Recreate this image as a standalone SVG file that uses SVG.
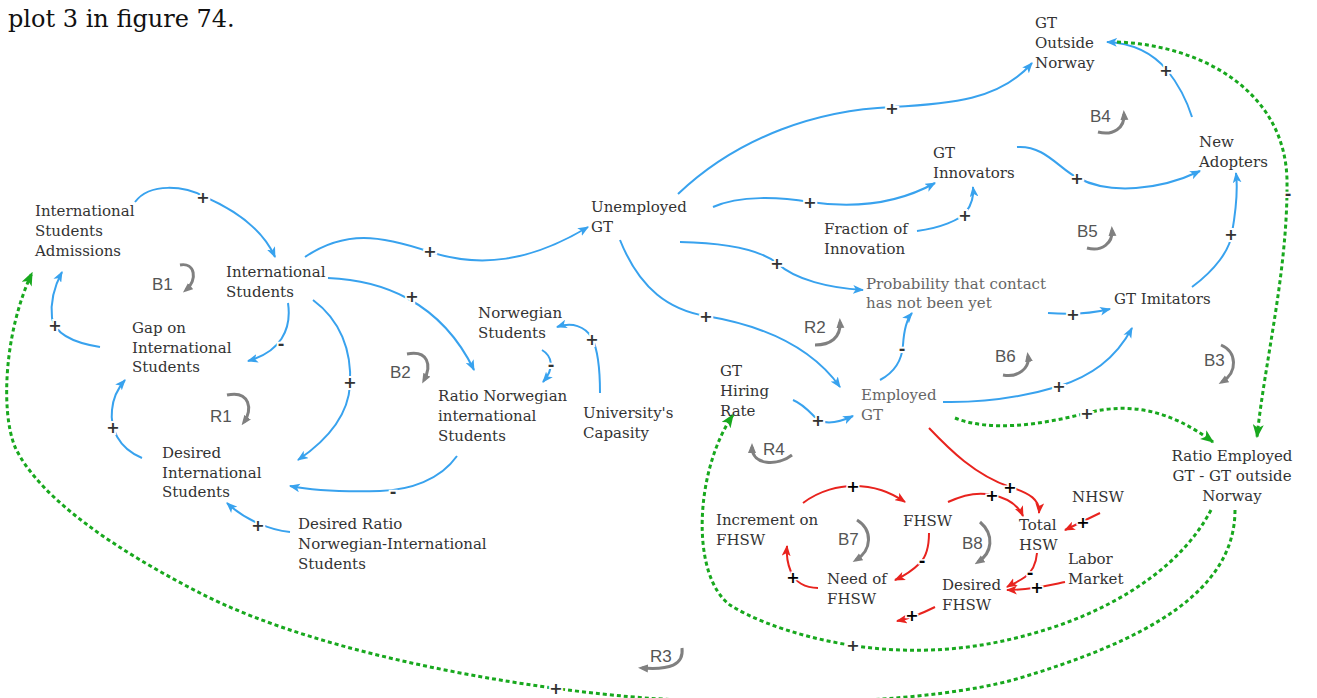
<svg xmlns="http://www.w3.org/2000/svg" width="1317" height="698" viewBox="0 0 1317 698">
  <style>
    .node { font-family: "DejaVu Serif", "Liberation Serif", serif; font-size: 15px; fill: #333; }
    .light { fill: #666; }
    .title { font-family: "DejaVu Serif", "Liberation Serif", serif; font-size: 24px; fill: #111; }
    .loop-label { font-family: "Liberation Sans", Arial, sans-serif; font-size: 17px; fill: #555; }
    .loop { fill: none; stroke: #808080; stroke-width: 3; marker-end: url(#ah-gray); }
    .blue { fill: none; stroke: #38a2ee; stroke-width: 2; marker-end: url(#ah-blue); }
    .red { fill: none; stroke: #e8231e; stroke-width: 2; marker-end: url(#ah-red); }
    .green { fill: none; stroke: #18a81e; stroke-width: 3; stroke-dasharray: 4 3; marker-end: url(#ah-green); }
    .sg { font-family: "DejaVu Sans", "Liberation Sans", sans-serif; font-size: 16px; font-weight: bold; fill: #333; text-anchor: middle; dominant-baseline: central; stroke: #fff; stroke-width: 4; paint-order: stroke; }
    .sg.k { fill: #000; stroke-width: 3; }
  </style>
  <defs>
    <marker id="ah-blue" viewBox="0 0 10 8" refX="9" refY="4" markerWidth="11" markerHeight="9" markerUnits="userSpaceOnUse" orient="auto">
      <path d="M0,0 L10,4 L0,8 L2.5,4 z" fill="#38a2ee"/>
    </marker>
    <marker id="ah-red" viewBox="0 0 10 8" refX="9" refY="4" markerWidth="11" markerHeight="9" markerUnits="userSpaceOnUse" orient="auto">
      <path d="M0,0 L10,4 L0,8 L2.5,4 z" fill="#e8231e"/>
    </marker>
    <marker id="ah-green" viewBox="0 0 10 8" refX="9" refY="4" markerWidth="14" markerHeight="11" markerUnits="userSpaceOnUse" orient="auto">
      <path d="M0,0 L10,4 L0,8 L2.5,4 z" fill="#18a81e"/>
    </marker>
    <marker id="ah-gray" viewBox="0 0 10 8" refX="6" refY="4" markerWidth="10" markerHeight="9" markerUnits="userSpaceOnUse" orient="auto">
      <path d="M0,0 L10,4 L0,8 z" fill="#808080"/>
    </marker>
  </defs>

  <rect width="1317" height="698" fill="#fff"/>
  <text class="title" x="8" y="27">plot 3 in figure 74.</text>

  <!-- connectors -->
  <g id="connectors">
    <!-- students sector -->
    <path class="blue" d="M135,202 C150,182 185,186 205,197 C235,210 262,228 275,257"/>
    <path class="blue" d="M100,347 C75,343 55,335 52,318 C50,300 55,285 62,272"/>
    <path class="blue" d="M288,303 C292,330 280,352 248,361"/>
    <path class="blue" d="M142,458 C118,448 110,428 112,410 C113,398 118,388 125,380"/>
    <path class="blue" d="M313,300 C340,320 352,350 350,385 C348,420 320,445 298,460"/>
    <path class="blue" d="M328,278 C380,280 440,300 474,370"/>
    <path class="blue" d="M305,257 C345,230 380,235 430,252 C480,268 530,262 588,227"/>
    <path class="blue" d="M457,456 C440,480 410,490 380,491 C340,492 310,490 290,486"/>
    <path class="blue" d="M290,532 C270,530 245,520 227,503"/>
    <path class="blue" d="M542,350 C552,356 555,368 543,382"/>
    <path class="blue" d="M600,393 C600,370 598,350 592,338 C585,326 572,322 557,327"/>
    <!-- GT sector -->
    <path class="blue" d="M678,194 C740,135 820,110 892,107 C950,104 1000,100 1032,63"/>
    <path class="blue" d="M713,207 C740,195 780,197 810,202 C850,208 895,205 935,183"/>
    <path class="blue" d="M917,231 C940,228 960,220 966,212 C972,204 974,196 973,187"/>
    <path class="blue" d="M680,242 C730,243 760,250 777,263 C795,280 830,288 863,290"/>
    <path class="blue" d="M620,240 C640,290 670,310 706,316 C760,325 810,345 840,387"/>
    <path class="blue" d="M1017,147 C1045,145 1060,170 1078,178 C1110,195 1160,190 1200,171"/>
    <path class="blue" d="M1192,117 C1185,95 1175,80 1167,70 C1150,50 1130,43 1107,42"/>
    <path class="blue" d="M1192,287 C1215,270 1230,250 1232,233 C1236,210 1238,190 1236,173"/>
    <path class="blue" d="M1048,313 C1060,314 1085,315 1110,309"/>
    <path class="blue" d="M880,380 C895,372 902,360 903,345 C904,330 906,320 912,313"/>
    <path class="blue" d="M943,402 C990,403 1030,395 1060,386 C1090,376 1115,360 1132,328"/>
    <path class="blue" d="M793,400 C805,405 812,415 818,420 C828,425 840,422 853,416"/>
    <!-- FHSW sector -->
    <path class="red" d="M929,428 C950,450 975,475 1010,487 C1030,493 1040,500 1039,513"/>
    <path class="red" d="M948,502 C965,494 980,492 992,495 C1008,498 1018,505 1023,516"/>
    <path class="red" d="M803,503 C820,490 840,486 853,486 C875,486 890,492 905,502"/>
    <path class="red" d="M929,533 C929,548 925,558 920,563 C912,571 904,576 895,580"/>
    <path class="red" d="M818,588 C805,588 795,582 791,572 C788,565 786,558 787,546"/>
    <path class="red" d="M1037,553 C1036,565 1032,572 1025,577 C1018,582 1012,584 1007,587"/>
    <path class="red" d="M1065,582 C1050,585 1030,590 1007,590"/>
    <path class="red" d="M1100,513 L1065,530"/>
    <path class="red" d="M935,607 C925,612 912,618 897,621"/>
    <!-- cross-sector links -->
    <path class="green" d="M955,418 C990,432 1040,425 1087,413 C1130,402 1170,410 1213,442"/>
    <path class="green" d="M1117,42 C1200,45 1285,90 1287,180 C1288,270 1265,360 1257,437"/>
    <path class="green" d="M1211,510 C1185,560 1130,600 1060,625 C1010,642 960,652 900,650 C840,648 770,630 730,605 C690,575 695,470 733,415"/>
    <path class="green" d="M1235,510 C1235,590 1150,640 1013,680 C930,702 790,706 680,700 C560,695 330,660 200,593 C120,552 40,500 15,447 C0,410 5,330 32,273"/>

    <!-- polarity signs -->
    <text class="sg" x="203" y="197">+</text>
    <text class="sg" x="55" y="325">+</text>
    <text class="sg" x="281" y="343">-</text>
    <text class="sg" x="113" y="427">+</text>
    <text class="sg" x="350" y="382">+</text>
    <text class="sg" x="412" y="296">+</text>
    <text class="sg" x="430" y="251">+</text>
    <text class="sg" x="393" y="491">-</text>
    <text class="sg" x="258" y="525">+</text>
    <text class="sg" x="551" y="364">-</text>
    <text class="sg" x="592" y="339">+</text>
    <text class="sg" x="892" y="108">+</text>
    <text class="sg" x="810" y="202">+</text>
    <text class="sg" x="965" y="215">+</text>
    <text class="sg" x="777" y="263">+</text>
    <text class="sg" x="706" y="316">+</text>
    <text class="sg" x="1077" y="178">+</text>
    <text class="sg" x="1166" y="70">+</text>
    <text class="sg" x="1231" y="234">+</text>
    <text class="sg" x="1073" y="314">+</text>
    <text class="sg" x="902" y="348">-</text>
    <text class="sg" x="1059" y="386">+</text>
    <text class="sg" x="818" y="420">+</text>
    <text class="sg k" x="1010" y="487">+</text>
    <text class="sg k" x="992" y="495">+</text>
    <text class="sg k" x="853" y="486">+</text>
    <text class="sg k" x="922" y="560">-</text>
    <text class="sg k" x="793" y="577">+</text>
    <text class="sg k" x="1030" y="572">-</text>
    <text class="sg k" x="1037" y="587">+</text>
    <text class="sg k" x="1083" y="522">+</text>
    <text class="sg k" x="912" y="615">+</text>
    <text class="sg" x="1087" y="413">+</text>
    <text class="sg" x="1288" y="193">-</text>
    <text class="sg" x="853" y="645">+</text>
    <text class="sg" x="556" y="688">+</text>
  </g>

  <!-- loop identifiers -->
  <g id="loops">
    <g id="loop-B1"><text class="loop-label" x="152" y="290">B1</text><path class="loop" d="M180,265 C195,262 198,280 186,290"/></g>
    <g id="loop-R1"><text class="loop-label" x="210" y="422">R1</text><path class="loop" d="M227,395 C250,390 253,410 244,422"/></g>
    <g id="loop-B2"><text class="loop-label" x="390" y="378">B2</text><path class="loop" d="M407,354 C428,350 432,365 424,380"/></g>
    <g id="loop-R2"><text class="loop-label" x="804" y="333">R2</text><path class="loop" d="M815,345 C830,345 841,338 840,322"/></g>
    <g id="loop-B6"><text class="loop-label" x="995" y="362">B6</text><path class="loop" d="M1003,375 C1018,378 1030,368 1028,356"/></g>
    <g id="loop-B4"><text class="loop-label" x="1090" y="122">B4</text><path class="loop" d="M1098,132 C1113,136 1125,128 1124,114"/></g>
    <g id="loop-B5"><text class="loop-label" x="1077" y="237">B5</text><path class="loop" d="M1087,248 C1102,252 1113,243 1112,230"/></g>
    <g id="loop-B3"><text class="loop-label" x="1204" y="366">B3</text><path class="loop" d="M1221,345 C1237,352 1238,372 1222,382"/></g>
    <g id="loop-R4"><text class="loop-label" x="763" y="455">R4</text><path class="loop" d="M792,455 C778,466 752,466 752,447"/></g>
    <g id="loop-B7"><text class="loop-label" x="838" y="545">B7</text><path class="loop" d="M857,520 C873,530 872,550 856,560"/></g>
    <g id="loop-B8"><text class="loop-label" x="962" y="549">B8</text><path class="loop" d="M980,522 C995,535 992,553 978,562"/></g>
    <g id="loop-R3"><text class="loop-label" x="650" y="662">R3</text><path class="loop" d="M682,648 C684,665 670,670 642,668"/></g>
  </g>

  <!-- variables -->
  <g id="intl-students-admissions"><text class="node"><tspan x="35" y="216">International</tspan><tspan x="35" y="236">Students</tspan><tspan x="35" y="256">Admissions</tspan></text></g>
  <g id="intl-students"><text class="node"><tspan x="226" y="277">International</tspan><tspan x="226" y="297">Students</tspan></text></g>
  <g id="gap-intl-students"><text class="node"><tspan x="132" y="333">Gap on</tspan><tspan x="132" y="353">International</tspan><tspan x="132" y="372">Students</tspan></text></g>
  <g id="desired-intl-students"><text class="node"><tspan x="162" y="458">Desired</tspan><tspan x="162" y="478">International</tspan><tspan x="162" y="497">Students</tspan></text></g>
  <g id="desired-ratio"><text class="node"><tspan x="298" y="529">Desired Ratio</tspan><tspan x="298" y="549">Norwegian-International</tspan><tspan x="298" y="569">Students</tspan></text></g>
  <g id="ratio-norwegian-intl"><text class="node"><tspan x="438" y="401">Ratio Norwegian</tspan><tspan x="438" y="421">international</tspan><tspan x="438" y="441">Students</tspan></text></g>
  <g id="norwegian-students"><text class="node"><tspan x="478" y="318">Norwegian</tspan><tspan x="478" y="338">Students</tspan></text></g>
  <g id="university-capasity"><text class="node"><tspan x="583" y="418">University's</tspan><tspan x="583" y="438">Capasity</tspan></text></g>
  <g id="unemployed-gt"><text class="node"><tspan x="591" y="212">Unemployed</tspan><tspan x="591" y="232">GT</tspan></text></g>
  <g id="gt-outside-norway"><text class="node"><tspan x="1035" y="28">GT</tspan><tspan x="1035" y="48">Outside</tspan><tspan x="1035" y="68">Norway</tspan></text></g>
  <g id="gt-innovators"><text class="node"><tspan x="933" y="158">GT</tspan><tspan x="933" y="178">Innovators</tspan></text></g>
  <g id="new-adopters"><text class="node"><tspan x="1199" y="147">New</tspan><tspan x="1199" y="167">Adopters</tspan></text></g>
  <g id="fraction-innovation"><text class="node"><tspan x="824" y="234">Fraction of</tspan><tspan x="824" y="254">Innovation</tspan></text></g>
  <g id="probability-contact"><text class="node light"><tspan x="866" y="289">Probability that contact</tspan><tspan x="866" y="308">has not been yet</tspan></text></g>
  <g id="gt-imitators"><text class="node"><tspan x="1114" y="304">GT Imitators</tspan></text></g>
  <g id="employed-gt"><text class="node light"><tspan x="861" y="400">Employed</tspan><tspan x="861" y="420">GT</tspan></text></g>
  <g id="gt-hiring-rate"><text class="node"><tspan x="720" y="376">GT</tspan><tspan x="720" y="396">Hiring</tspan><tspan x="720" y="416">Rate</tspan></text></g>
  <g id="ratio-employed-outside"><text class="node" text-anchor="middle"><tspan x="1232" y="461">Ratio Employed</tspan><tspan x="1232" y="481">GT - GT outside</tspan><tspan x="1232" y="501">Norway</tspan></text></g>
  <g id="increment-fhsw"><text class="node"><tspan x="716" y="525">Increment on</tspan><tspan x="716" y="545">FHSW</tspan></text></g>
  <g id="fhsw"><text class="node"><tspan x="903" y="526">FHSW</tspan></text></g>
  <g id="need-fhsw"><text class="node"><tspan x="827" y="584">Need of</tspan><tspan x="827" y="604">FHSW</tspan></text></g>
  <g id="total-hsw"><text class="node"><tspan x="1019" y="530">Total</tspan><tspan x="1019" y="550">HSW</tspan></text></g>
  <g id="nhsw"><text class="node"><tspan x="1072" y="502">NHSW</tspan></text></g>
  <g id="labor-market"><text class="node"><tspan x="1068" y="564">Labor</tspan><tspan x="1068" y="584">Market</tspan></text></g>
  <g id="desired-fhsw"><text class="node"><tspan x="942" y="590">Desired</tspan><tspan x="942" y="610">FHSW</tspan></text></g>
</svg>
